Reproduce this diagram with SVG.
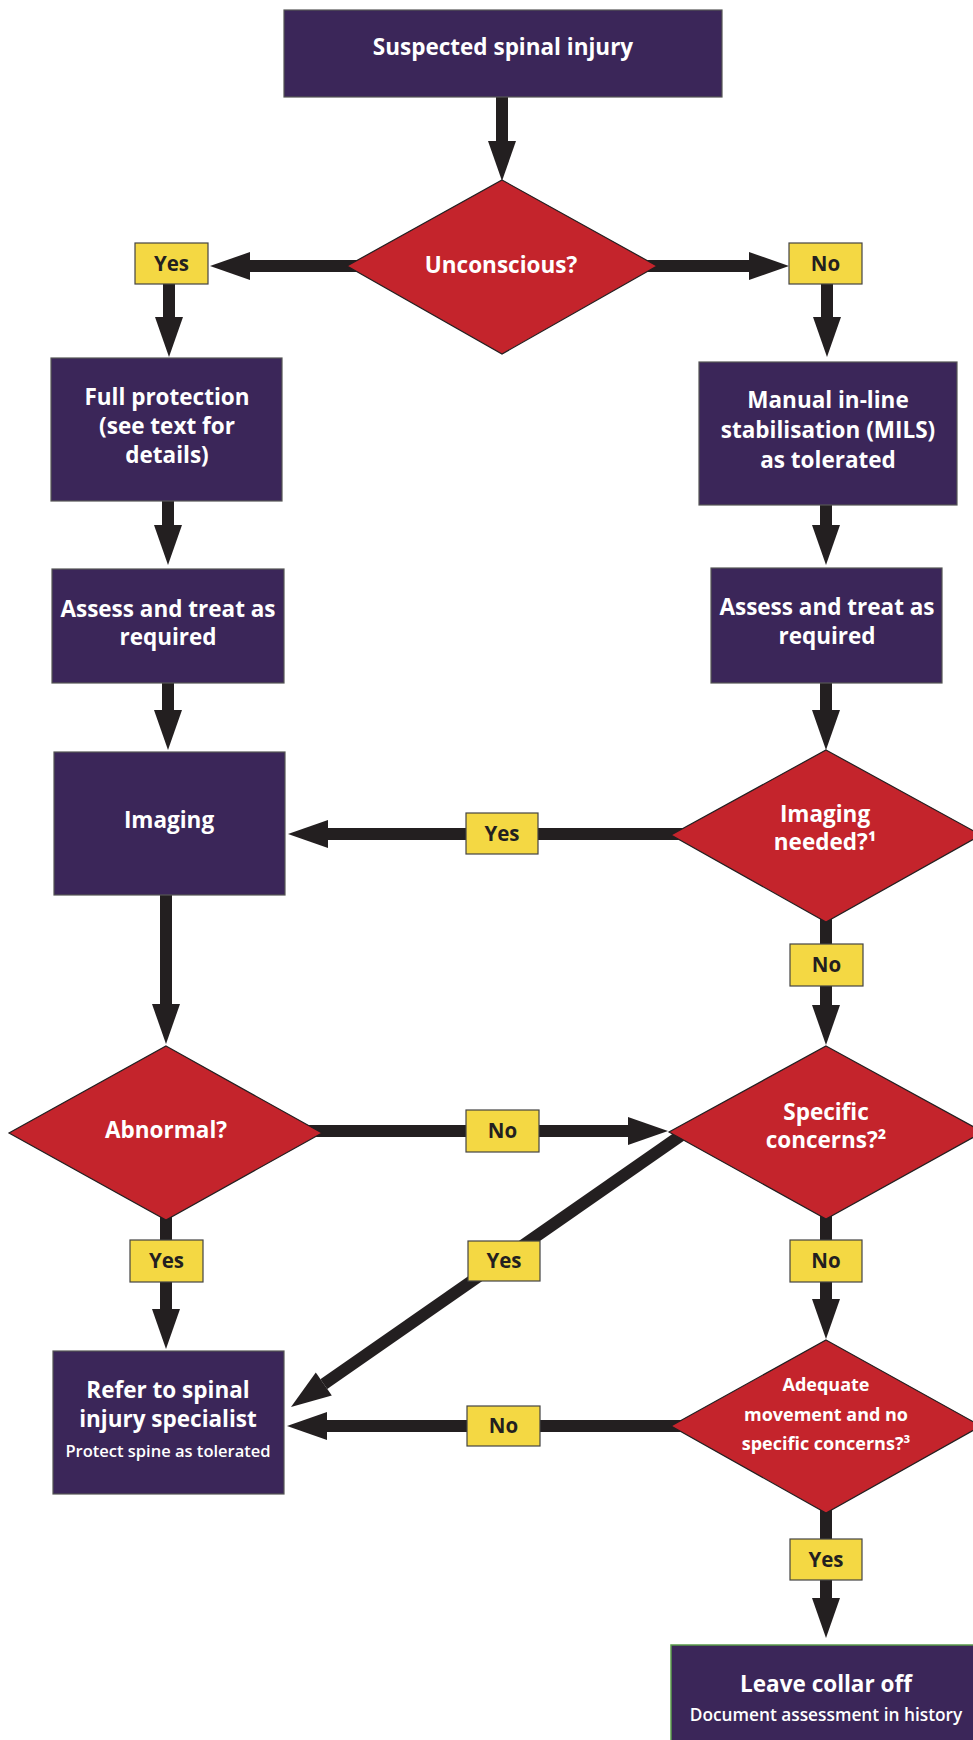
<svg xmlns="http://www.w3.org/2000/svg" width="973" height="1740" viewBox="0 0 973 1740">
<style>
.box{fill:#3b2659;stroke:#555;stroke-width:1.2}
.dia{fill:#c4242c;stroke:#231f20;stroke-width:1.2}
.lab{fill:#f4d843;stroke:#444;stroke-width:1.2}
.t{font-family:"Open Sans","Liberation Sans",sans-serif;font-weight:700;fill:#fff;text-anchor:middle;font-size:22.5px}
.s{font-family:"Open Sans","Liberation Sans",sans-serif;font-weight:700;fill:#fff;text-anchor:middle;font-size:18px}
.r{font-family:"Open Sans","Liberation Sans",sans-serif;font-weight:600;fill:#fff;text-anchor:middle;font-size:16.5px}
.lt{font-family:"Open Sans","Liberation Sans",sans-serif;font-weight:700;fill:#231f20;text-anchor:middle;font-size:20.5px}
.c{stroke:#231f20;stroke-width:12;fill:none;marker-end:url(#ah)}
</style>
<defs>
<marker id="ah" markerUnits="userSpaceOnUse" markerWidth="40" markerHeight="30" refX="0" refY="15" orient="auto" overflow="visible">
<path d="M0,1 L40,15 L0,29 Z" fill="#231f20"/>
</marker>
</defs>
<rect width="973" height="1740" fill="#fff"/>

<g id="connectors">
<line class="c" x1="502" y1="90" x2="502" y2="141"/>
<line class="c" x1="365" y1="266" x2="250" y2="266"/>
<line class="c" x1="640" y1="266" x2="749" y2="266"/>
<line class="c" x1="169" y1="280" x2="169" y2="317"/>
<line class="c" x1="827" y1="280" x2="827" y2="317"/>
<line class="c" x1="168" y1="495" x2="168" y2="525"/>
<line class="c" x1="826" y1="500" x2="826" y2="525"/>
<line class="c" x1="168" y1="678" x2="168" y2="710"/>
<line class="c" x1="826" y1="678" x2="826" y2="710"/>
<line class="c" x1="690" y1="834" x2="328" y2="834"/>
<line class="c" x1="826" y1="905" x2="826" y2="1005"/>
<line class="c" x1="166" y1="890" x2="166" y2="1004"/>
<line class="c" x1="305" y1="1131" x2="628" y2="1131"/>
<line class="c" x1="166" y1="1205" x2="166" y2="1309"/>
<line class="c" x1="683" y1="1134" x2="323.8" y2="1384.1"/>
<line class="c" x1="826" y1="1205" x2="826" y2="1299"/>
<line class="c" x1="690" y1="1426" x2="327" y2="1426"/>
<line class="c" x1="826" y1="1500" x2="826" y2="1598"/>
</g>

<g id="n-suspected">
<rect class="box" x="284" y="10" width="438" height="87"/>
<text class="t" x="503" y="55">Suspected spinal injury</text>
</g>
<g id="n-unconscious">
<polygon class="dia" points="502,180 657,266 502,354 347,266"/>
<text class="t" x="501" y="273">Unconscious?</text>
</g>
<g id="l-yes1"><rect class="lab" x="135" y="243" width="73" height="41"/><text class="lt" x="171.5" y="271">Yes</text></g>
<g id="l-no1"><rect class="lab" x="789" y="243" width="73" height="41"/><text class="lt" x="825.5" y="271">No</text></g>

<g id="n-full">
<rect class="box" x="51" y="358" width="231" height="143"/>
<text class="t" x="167" y="405">Full protection</text>
<text class="t" x="167" y="434">(see text for</text>
<text class="t" x="167" y="463">details)</text>
</g>
<g id="n-mils">
<rect class="box" x="699" y="362" width="258" height="143"/>
<text class="t" x="828" y="408">Manual in-line</text>
<text class="t" x="828" y="438">stabilisation (MILS)</text>
<text class="t" x="828" y="468">as tolerated</text>
</g>
<g id="n-assess-l">
<rect class="box" x="52" y="569" width="232" height="114"/>
<text class="t" x="168" y="617">Assess and treat as</text>
<text class="t" x="168" y="645">required</text>
</g>
<g id="n-assess-r">
<rect class="box" x="711" y="568" width="231" height="115"/>
<text class="t" x="827" y="615">Assess and treat as</text>
<text class="t" x="827" y="644">required</text>
</g>
<g id="n-imaging">
<rect class="box" x="54" y="752" width="231" height="143"/>
<text class="t" x="169" y="828">Imaging</text>
</g>
<g id="n-imaging-needed">
<polygon class="dia" points="826,750 981,835 826,922 671,835"/>
<text class="t" x="825" y="822">Imaging</text>
<text class="t" x="825" y="850">needed?¹</text>
</g>
<g id="l-yes2"><rect class="lab" x="466" y="813" width="72" height="41"/><text class="lt" x="502" y="840.5">Yes</text></g>
<g id="l-no2"><rect class="lab" x="790" y="944" width="73" height="42"/><text class="lt" x="826.5" y="972">No</text></g>

<g id="n-abnormal">
<polygon class="dia" points="166,1046 322,1133 166,1220 9,1133"/>
<text class="t" x="166" y="1138">Abnormal?</text>
</g>
<g id="n-specific">
<polygon class="dia" points="826,1046 983,1132 826,1219 669,1132"/>
<text class="t" x="826" y="1120">Specific</text>
<text class="t" x="826" y="1148">concerns?²</text>
</g>
<g id="l-no3"><rect class="lab" x="466" y="1110" width="73" height="42"/><text class="lt" x="502.5" y="1138">No</text></g>
<g id="l-yes3"><rect class="lab" x="130" y="1240" width="73" height="42"/><text class="lt" x="166.5" y="1268">Yes</text></g>
<g id="l-yes4"><rect class="lab" x="468" y="1241" width="72" height="40"/><text class="lt" x="504" y="1268">Yes</text></g>
<g id="l-no4"><rect class="lab" x="790" y="1240" width="72" height="42"/><text class="lt" x="826" y="1268">No</text></g>

<g id="n-refer">
<rect class="box" x="53" y="1351" width="231" height="143"/>
<text class="t" x="168" y="1398">Refer to spinal</text>
<text class="t" x="168" y="1427">injury specialist</text>
<text class="r" x="168" y="1457">Protect spine as tolerated</text>
</g>
<g id="n-adequate">
<polygon class="dia" points="826,1340 981,1426 826,1513 671,1426"/>
<text class="s" x="826" y="1391">Adequate</text>
<text class="s" x="826" y="1421">movement and no</text>
<text class="s" x="826" y="1450">specific concerns?³</text>
</g>
<g id="l-no5"><rect class="lab" x="467" y="1406" width="73" height="40"/><text class="lt" x="503.5" y="1433">No</text></g>
<g id="l-yes5"><rect class="lab" x="790" y="1539" width="72" height="41"/><text class="lt" x="826" y="1567">Yes</text></g>

<g id="n-leave">
<rect x="671" y="1645" width="320" height="110" fill="#3b2659" stroke="#5a9a4a" stroke-width="1.5"/>
<text class="t" x="826" y="1692">Leave collar off</text>
<text class="r" x="826" y="1721" style="font-size:17.3px">Document assessment in history</text>
</g>
</svg>
